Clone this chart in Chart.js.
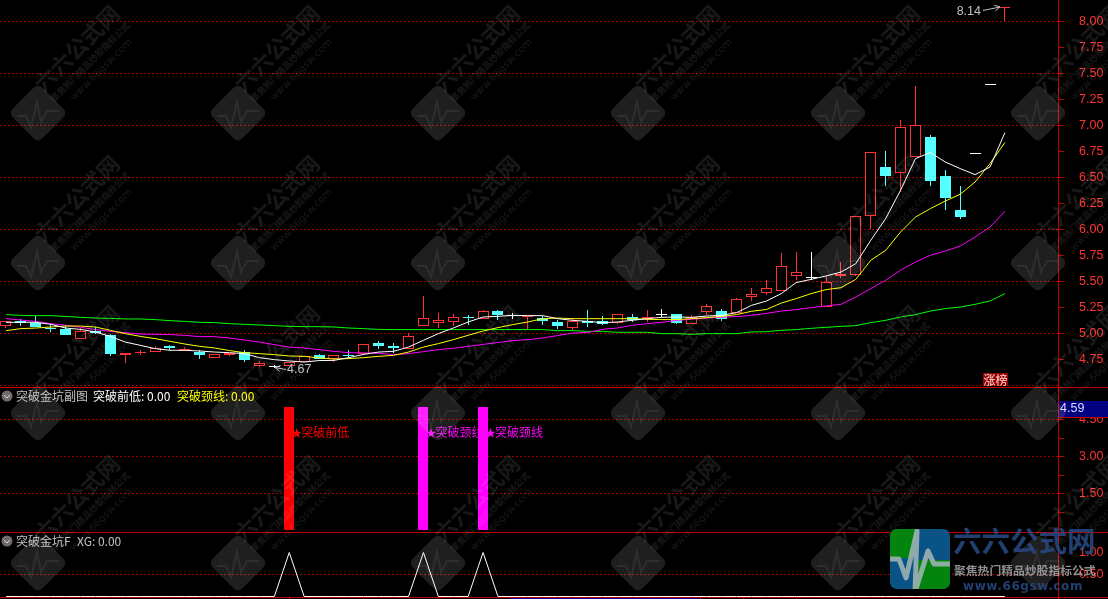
<!DOCTYPE html>
<html>
<head>
<meta charset="utf-8">
<title>突破金坑</title>
<script src="https://cdn.jsdelivr.net/npm/chart.js@4"></script>
<style>
  html, body { margin: 0; padding: 0; background: #000; overflow: hidden; }
  canvas { display: block; }
</style>
</head>
<body>
<canvas id="chart" width="1108" height="599"></canvas>
<script>
// Daily candles
const opens = [5.07,5.115,5.10,5.05,5.04,4.945,5.02,4.98,4.79,4.81,4.82,4.875,4.83,4.82,4.763,4.79,4.82,4.69,4.69,4.683,4.72,4.79,4.757,4.795,4.805,4.905,4.875,4.853,5.074,5.10,5.11,5.157,5.14,5.21,5.172,5.16,5.15,5.106,5.05,5.12,5.115,5.10,5.16,5.135,5.183,5.19,5.09,5.205,5.21,5.20,5.35,5.39,5.407,5.555,5.54,5.257,5.55,5.564,6.13,6.595,6.54,6.695,6.885,6.51,6.19,6.73,7.40,8.125];
const closes = [5.115,5.10,5.065,5.04,4.98,5.02,5.003,4.798,4.815,4.825,4.862,4.855,4.845,4.79,4.80,4.81,4.74,4.715,4.69,4.72,4.78,4.757,4.79,4.78,4.895,4.88,4.855,4.978,5.15,5.125,5.16,5.15,5.21,5.173,5.172,5.165,5.118,5.07,5.118,5.10,5.093,5.19,5.125,5.157,5.183,5.10,5.154,5.266,5.135,5.327,5.38,5.44,5.65,5.585,5.54,5.497,5.575,6.13,6.747,6.51,6.987,7.007,6.46,6.30,6.115,6.73,7.40,8.14];
const highs = [5.115,5.14,5.165,5.087,5.067,5.05,5.06,4.997,4.815,4.835,4.875,4.885,4.87,4.835,4.80,4.815,4.835,4.73,4.70,4.72,4.78,4.805,4.79,4.835,4.895,4.93,4.905,5.00,5.355,5.20,5.183,5.173,5.22,5.224,5.195,5.165,5.163,5.125,5.15,5.22,5.163,5.19,5.183,5.22,5.23,5.19,5.18,5.285,5.237,5.34,5.44,5.515,5.77,5.78,5.78,5.54,5.69,6.13,6.747,6.75,7.05,7.375,6.904,6.567,6.413,6.73,7.40,8.14];
const lows = [5.05,5.075,5.065,5.012,4.98,4.945,4.993,4.78,4.715,4.795,4.82,4.835,4.83,4.75,4.763,4.78,4.72,4.675,4.67,4.683,4.72,4.75,4.72,4.76,4.795,4.85,4.815,4.853,5.074,5.05,5.067,5.077,5.14,5.125,5.135,5.035,5.083,5.04,5.03,5.06,5.077,5.09,5.108,5.108,5.157,5.09,5.09,5.173,5.118,5.20,5.31,5.365,5.407,5.51,5.51,5.257,5.53,5.55,6.00,6.42,6.36,6.695,6.42,6.19,6.10,6.73,7.40,8.00];

// Moving averages
const maWhite = [5.106,5.106,5.106,5.087,5.051,5.038,5.013,4.971,4.916,4.885,4.853,4.837,4.837,4.83,4.82,4.814,4.805,4.766,4.747,4.734,4.724,4.738,4.74,4.766,4.798,4.82,4.827,4.868,4.933,4.997,5.051,5.109,5.157,5.163,5.173,5.17,5.17,5.141,5.125,5.115,5.103,5.109,5.125,5.141,5.154,5.157,5.154,5.166,5.173,5.199,5.269,5.31,5.382,5.488,5.519,5.551,5.589,5.67,5.894,6.103,6.375,6.68,6.738,6.647,6.584,6.526,6.599,6.93];
const maYellow = [5.026,5.045,5.051,5.061,5.07,5.07,5.061,5.029,4.997,4.971,4.949,4.923,4.897,4.875,4.859,4.834,4.814,4.805,4.795,4.782,4.779,4.763,4.753,4.757,4.766,4.779,4.788,4.82,4.868,4.901,4.939,4.981,5.022,5.055,5.084,5.109,5.141,5.147,5.141,5.141,5.141,5.141,5.141,5.135,5.132,5.132,5.141,5.151,5.163,5.18,5.212,5.229,5.291,5.334,5.382,5.42,5.439,5.519,5.702,5.798,5.974,6.118,6.199,6.272,6.337,6.455,6.632,6.834];
const maMagenta = [5.141,5.128,5.115,5.093,5.077,5.058,5.036,5.019,5.007,4.993,4.99,4.988,4.981,4.968,4.968,4.955,4.936,4.916,4.891,4.868,4.859,4.843,4.827,4.814,4.811,4.808,4.795,4.805,4.824,4.843,4.856,4.875,4.894,4.911,4.93,4.939,4.955,4.978,5.003,5.007,5.038,5.051,5.077,5.093,5.106,5.125,5.135,5.147,5.154,5.161,5.173,5.192,5.214,5.228,5.247,5.263,5.279,5.349,5.43,5.51,5.606,5.686,5.75,5.791,5.839,5.926,6.022,6.173];
const maGreen = [5.18,5.173,5.17,5.17,5.163,5.154,5.147,5.144,5.138,5.138,5.132,5.122,5.115,5.106,5.103,5.093,5.087,5.08,5.074,5.067,5.064,5.064,5.061,5.051,5.045,5.038,5.036,5.036,5.036,5.036,5.036,5.036,5.036,5.036,5.036,5.036,5.036,5.026,5.026,5.019,5.019,5.01,5.01,5.01,4.997,4.997,4.99,4.997,4.997,4.997,5.013,5.016,5.029,5.036,5.048,5.058,5.067,5.074,5.103,5.125,5.157,5.18,5.214,5.238,5.253,5.279,5.311,5.382];

// Sub panels
const signalIndex = [19, 28, 32];
const signalValues = [5, 5, 5];
const signalNames = ['突破前低', '突破颈线', '突破颈线'];
const xgValues = [0,0,0,0,0,0,0,0,0,0,0,0,0,0,0,0,0,0,0,1,0,0,0,0,0,0,0,0,1,0,0,0,1,0,0,0,0,0,0,0,0,0,0,0,0,0,0,0,0,0,0,0,0,0,0,0,0,0,0,0,0,0,0,0,0,0,0,0];
const xTickValues = [19, 24, 29, 34, 46.6, 49.5, 53];

const RED = '#ff3232', CYAN = '#54ffff', AXIS = '#c00000', GRID = '#a00000';

const candleColor = i => closes[i] > opens[i] ? RED : closes[i] < opens[i] ? CYAN : '#ffffff';
const near = (v, step) => Math.abs(v / step - Math.round(v / step)) < 1e-6;
const asPoints = arr => arr.map((v, i) => ({ x: i, y: v }));
const maLine = (data, color, order) => ({
  type: 'line', data: asPoints(data), yAxisID: 'y', borderColor: color, borderWidth: 1,
  pointRadius: 0, tension: 0, order
});

// The terminal snaps everything to whole pixels, do the same with the bars
const snapBars = {
  id: 'snapBars',
  afterDatasetsUpdate(chart) {
    chart.getSortedVisibleDatasetMetas().forEach(meta => {
      if (meta.type !== 'bar') return;
      meta.data.forEach(el => {
        el.x = Math.round(el.x - el.width / 2) + el.width / 2;
        el.y = Math.round(el.y);
        el.base = Math.round(el.base);
        if (el.y === el.base) el.y = el.base + 1;
      });
    });
  }
};

// Text labels of the signal bars, the bars are drawn over them
const signalText = {
  id: 'signalText',
  beforeDatasetsDraw(chart) {
    const { ctx, scales } = chart;
    ctx.save();
    ctx.textBaseline = 'middle';
    signalIndex.forEach((idx, k) => {
      const x = scales.x.getPixelForValue(idx);
      const y = scales.y1.getPixelForValue(4) + 0.5;
      ctx.fillStyle = k === 0 ? '#ff0000' : '#ff00ff';
      ctx.font = '11px "Noto Sans CJK SC"';
      ctx.fillText('★', x + 2, y);
      ctx.font = '12px "Noto Sans CJK SC"';
      ctx.fillText(signalNames[k], x + 12, y);
    });
    ctx.restore();
  }
};

function arrowTo(ctx, x0, y0, x1, y1) {
  const a = Math.atan2(y1 - y0, x1 - x0);
  ctx.beginPath();
  ctx.moveTo(x0, y0);
  ctx.lineTo(x1, y1);
  ctx.moveTo(x1 - 6 * Math.cos(a - 0.5), y1 - 6 * Math.sin(a - 0.5));
  ctx.lineTo(x1, y1);
  ctx.lineTo(x1 - 6 * Math.cos(a + 0.5), y1 - 6 * Math.sin(a + 0.5));
  ctx.stroke();
}

function panelHeader(ctx, y, parts) {
  ctx.fillStyle = '#6e6a6e';
  ctx.beginPath();
  ctx.arc(7, y, 5.5, 0, Math.PI * 2);
  ctx.fill();
  ctx.strokeStyle = '#dddddd';
  ctx.lineWidth = 1;
  ctx.beginPath();
  ctx.moveTo(4, y - 1);
  ctx.lineTo(7, y + 2);
  ctx.lineTo(10, y - 1);
  ctx.stroke();
  ctx.font = '12px "Noto Sans CJK SC"';
  ctx.textAlign = 'left';
  ctx.textBaseline = 'middle';
  parts.forEach(p => {
    ctx.fillStyle = p[2];
    ctx.fillText(p[0], p[1], y);
  });
}

function watermark(ctx) {
  for (let cy = 113; cy < 640; cy += 150) {
    for (let cx = 38; cx < 1140; cx += 200) {
      ctx.save();
      ctx.translate(cx, cy);
      ctx.fillStyle = 'rgba(255,255,255,0.12)';
      ctx.save();
      ctx.rotate(Math.PI / 4);
      ctx.beginPath();
      ctx.roundRect(-21, -21, 42, 42, 6);
      ctx.fill();
      ctx.restore();
      ctx.strokeStyle = 'rgba(255,255,255,0.07)';
      ctx.lineWidth = 2;
      ctx.beginPath();
      ctx.moveTo(-21, 3);
      ctx.lineTo(-12, 3);
      ctx.lineTo(-7, 14);
      ctx.lineTo(-1, -11);
      ctx.lineTo(3, 9);
      ctx.lineTo(9, -2);
      ctx.lineTo(21, -2);
      ctx.stroke();
      ctx.rotate(-Math.PI / 4);
      ctx.fillStyle = 'rgba(255,255,255,0.095)';
      ctx.textAlign = 'left';
      ctx.textBaseline = 'alphabetic';
      ctx.font = 'bold 22px "Noto Sans CJK SC"';
      ctx.fillText('六六公式网', 18, -10);
      ctx.font = 'bold 9px "Noto Sans CJK SC"';
      ctx.fillText('聚焦热门精品炒股指标公式', 19, 4);
      ctx.font = '10px "DejaVu Sans"';
      ctx.fillText('www.66gsw.com', 34, 17);
      ctx.restore();
    }
  }
}

function siteLogo(ctx) {
  ctx.save();
  ctx.globalAlpha = 0.9;
  ctx.beginPath();
  ctx.roundRect(890, 529, 60, 60, 7);
  ctx.clip();
  ctx.fillStyle = '#0a5c96';
  ctx.fillRect(890, 529, 60, 60);
  ctx.fillStyle = '#028a02';
  ctx.beginPath();
  ctx.moveTo(890, 529);
  ctx.lineTo(918, 529);
  ctx.lineTo(912, 558);
  ctx.lineTo(890, 558);
  ctx.fill();
  ctx.beginPath();
  ctx.moveTo(919, 560);
  ctx.lineTo(950, 560);
  ctx.lineTo(950, 589);
  ctx.lineTo(912, 589);
  ctx.fill();
  ctx.strokeStyle = '#9db3b3';
  ctx.lineWidth = 5;
  ctx.lineJoin = 'round';
  ctx.beginPath();
  ctx.moveTo(890, 559);
  ctx.lineTo(899, 559);
  ctx.lineTo(906, 578);
  ctx.lineTo(917, 531);
  ctx.lineTo(915, 592);
  ctx.lineTo(928, 551);
  ctx.lineTo(934, 564);
  ctx.lineTo(952, 564);
  ctx.stroke();
  ctx.restore();

  ctx.save();
  ctx.globalAlpha = 0.85;
  ctx.textAlign = 'left';
  ctx.textBaseline = 'alphabetic';
  ctx.fillStyle = '#284a85';
  ctx.font = 'bold 28.5px "Noto Sans CJK SC"';
  ctx.fillText('六六公式网', 953, 552);
  ctx.fillStyle = '#a8a8a8';
  ctx.font = 'bold 11.8px "Noto Sans CJK SC"';
  ctx.fillText('聚焦热门精品炒股指标公式', 954, 575);
  ctx.fillStyle = '#284a85';
  ctx.font = 'bold 12px "DejaVu Sans"';
  ctx.letterSpacing = '0.6px';
  ctx.fillText('www.66gsw.com', 963, 589.5);
  ctx.restore();
}

const overlay = {
  id: 'overlay',
  afterDraw(chart) {
    const { ctx } = chart;
    ctx.save();

    // Panel separators run under the price axis too
    ctx.strokeStyle = AXIS;
    ctx.lineWidth = 1;
    ctx.beginPath();
    ctx.moveTo(0, 387.5);
    ctx.lineTo(1108, 387.5);
    ctx.moveTo(0, 532.5);
    ctx.lineTo(1108, 532.5);
    ctx.moveTo(1058.5, 597.5);
    ctx.lineTo(1108, 597.5);
    ctx.stroke();

    // Scrap of the date strip at the very bottom
    ctx.fillStyle = '#000080';
    ctx.fillRect(510, 598, 189, 1);

    // High and low call-outs
    ctx.strokeStyle = '#c0c0c0';
    ctx.fillStyle = '#c0c0c0';
    ctx.font = '12.5px "Liberation Sans"';
    ctx.textBaseline = 'middle';
    ctx.textAlign = 'right';
    ctx.fillText('8.14', 981, 12);
    arrowTo(ctx, 983, 10.5, 1000, 7);
    ctx.textAlign = 'left';
    ctx.fillText('4.67', 287, 370);
    arrowTo(ctx, 286, 369.5, 275, 367.5);

    // 涨榜 tag
    ctx.fillStyle = '#990000';
    ctx.fillRect(983, 373, 25, 13);
    ctx.fillStyle = '#ffdcdc';
    ctx.font = '12px "Noto Sans CJK SC"';
    ctx.textAlign = 'center';
    ctx.fillText('涨榜', 995.5, 380);

    // Price readout of the cursor
    ctx.fillStyle = '#000080';
    ctx.fillRect(1059, 401, 49, 16);
    ctx.fillStyle = '#d8d8ff';
    ctx.font = '12.5px "Liberation Sans"';
    ctx.textAlign = 'left';
    ctx.fillText('4.59', 1060, 409);
    ctx.strokeStyle = AXIS;
    ctx.beginPath();
    ctx.moveTo(1059, 417.5);
    ctx.lineTo(1108, 417.5);
    ctx.stroke();

    panelHeader(ctx, 396, [
      ['突破金坑副图', 16, '#c0c0c0'],
      ['突破前低: 0.00', 93, '#ffffff'],
      ['突破颈线: 0.00', 177, '#ffff00']
    ]);
    panelHeader(ctx, 541, [
      ['突破金坑F', 16, '#c0c0c0'],
      ['XG: 0.00', 77, '#c0c0c0']
    ]);

    watermark(ctx);
    siteLogo(ctx);
    ctx.restore();
  }
};

function yAxis(weight, order, min, max, step, isLine, isLabel, isMark) {
  return {
    type: 'linear', position: 'right', stack: 'panels', stackWeight: weight, weight: order,
    min, max,
    border: { color: AXIS, dash: [2, 2] },
    grid: {
      color: c => isLine(c.tick.value) ? GRID : 'rgba(0,0,0,0)',
      tickColor: c => isMark(c.tick.value) ? AXIS : 'rgba(0,0,0,0)',
      tickLength: 6,
      tickBorderDash: []
    },
    ticks: {
      stepSize: step,
      includeBounds: false,
      autoSkip: false,
      padding: 15,
      color: RED,
      font: { family: '"Liberation Sans"', size: 12.5 },
      callback: v => isLabel(v) ? v.toFixed(2) : ''
    },
    afterFit(s) {
      s.width = 50;
      s.paddingTop = 0;
      s.paddingBottom = 0;
    }
  };
}

// Axis line is solid even though the grid is dotted
const solidAxis = {
  id: 'solidAxis',
  afterDatasetsDraw(chart) {
    const { ctx, chartArea } = chart;
    ctx.save();
    ctx.strokeStyle = AXIS;
    ctx.lineWidth = 1;
    ctx.beginPath();
    ctx.moveTo(1058.5, 0);
    ctx.lineTo(1058.5, chartArea.bottom + 2);
    ctx.stroke();
    ctx.restore();
  }
};

new Chart(document.getElementById('chart'), {
  type: 'bar',
  data: {
    datasets: [
      maLine(maWhite, '#ffffff', 1),
      maLine(maYellow, '#ffff00', 2),
      maLine(maMagenta, '#ff00ff', 3),
      maLine(maGreen, '#00ff00', 4),
      {
        data: opens.map((o, i) => ({ x: i, y: [o, closes[i]] })),
        yAxisID: 'y', grouped: false, barThickness: 11, borderWidth: 1, borderSkipped: false, inflateAmount: 0,
        backgroundColor: opens.map((o, i) => closes[i] > o ? '#000000' : candleColor(i)),
        borderColor: opens.map((o, i) => candleColor(i)),
        order: 5
      },
      {
        data: lows.map((l, i) => ({ x: i, y: [l, highs[i]] })),
        yAxisID: 'y', grouped: false, barThickness: 1, borderWidth: 0, inflateAmount: 0,
        backgroundColor: lows.map((l, i) => candleColor(i)),
        order: 6
      },
      {
        data: signalIndex.map((idx, k) => ({ x: idx, y: signalValues[k] })),
        yAxisID: 'y1', grouped: false, barThickness: 10, borderWidth: 0, inflateAmount: 0,
        backgroundColor: signalIndex.map((idx, k) => k === 0 ? '#ff0000' : '#ff00ff'),
        order: 7
      },
      {
        type: 'line', data: asPoints(xgValues), yAxisID: 'y2', borderColor: '#ffffff', borderWidth: 1,
        pointRadius: 0, tension: 0, order: 8
      }
    ]
  },
  options: {
    responsive: false,
    animation: false,
    layout: { padding: 0 },
    plugins: { legend: { display: false }, tooltip: { enabled: false } },
    scales: {
      x: {
        type: 'linear', min: -0.4, max: 70.56, offset: false,
        border: { color: AXIS },
        grid: { drawOnChartArea: false, tickColor: AXIS, tickLength: 2, offset: false },
        ticks: { display: false },
        afterBuildTicks(s) { s.ticks = xTickValues.map(value => ({ value })); },
        afterFit(s) {
          s.height = 2;
          s.paddingLeft = 0;
          s.paddingRight = 0;
        }
      },
      y: yAxis(387, 0, 4.484, 8.205, 0.25, v => near(v, 0.5), v => v > 4.6 && near(v, 0.25), v => v > 4.6 && near(v, 0.25)),
      y1: yAxis(145, 1, -0.05, 5.82, 0.75, v => near(v, 1.5) && v !== 0, v => near(v, 1.5) && v !== 0, v => v !== 0),
      y2: yAxis(65, 2, -0.0115, 1.466, 0.5, v => v === 0.5, v => v === 0.5 || v === 1, v => v === 0.5 || v === 1)
    }
  },
  plugins: [snapBars, signalText, solidAxis, overlay]
});
</script>
</body>
</html>
